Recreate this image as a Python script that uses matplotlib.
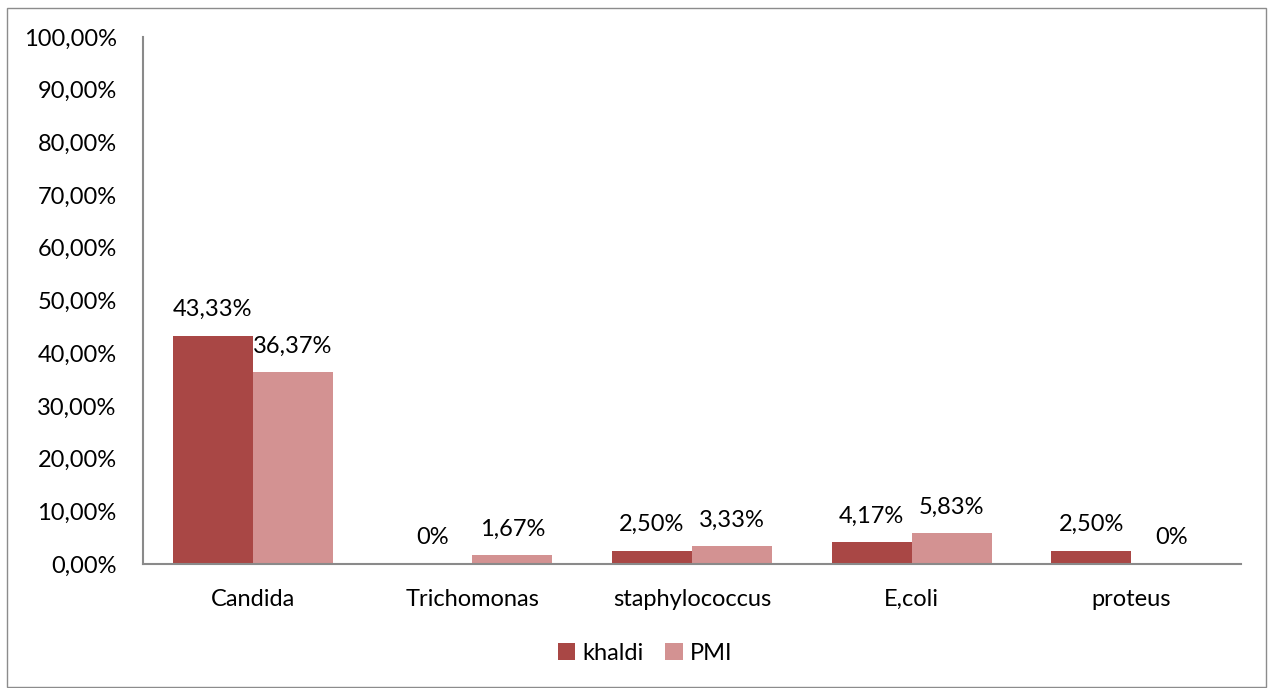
import numpy as np
import matplotlib
matplotlib.use('Agg')
import matplotlib.pyplot as plt
from matplotlib.patches import Rectangle

# Infection rates per germ, two sites
categories = ["Candida", "Trichomonas", "staphylococcus", "E,coli", "proteus"]
khaldi = [43.33, 0.0, 2.50, 4.17, 2.50]
pmi = [36.37, 1.67, 3.33, 5.83, 0.0]
series_names = ["khaldi", "PMI"]
yticks = np.arange(0, 101, 10)

COL_KHALDI = "#A94745"
COL_PMI = "#D39292"
AXIS_GREY = "#8A8A8A"

plt.rcParams['font.family'] = ['Lato', 'DejaVu Sans']
FS = 17


def fmt_label(v):
    if v == 0:
        return "0%"
    return f"{v:.2f}%".replace(".", ",")


fig = plt.figure(figsize=(12.7, 6.88), dpi=100)
W, H = 1270, 688
ax = fig.add_axes([143 / W, (H - 564) / H, (1241 - 143) / W, (564 - 37) / H])

x = np.arange(len(categories))
bw = 0.364
b1 = ax.bar(x - bw / 2, khaldi, bw, color=COL_KHALDI, label=series_names[0])
b2 = ax.bar(x + bw / 2, pmi, bw, color=COL_PMI, label=series_names[1])

# value labels above each bar
for bars, vals in ((b1, khaldi), (b2, pmi)):
    for rect, v in zip(bars, vals):
        ax.annotate(fmt_label(v), (rect.get_x() + rect.get_width() / 2, v),
                    xytext=(0, 26), textcoords='offset pixels',
                    ha='center', va='center', fontsize=FS, color='black')

ax.set_xlim(-0.5, len(categories) - 0.5)
ax.set_ylim(0, 100)
ax.set_yticks(yticks)
ax.set_yticklabels([f"{t:.2f}%".replace(".", ",") for t in yticks], fontsize=FS)
ax.set_xticks(x)
ax.set_xticklabels(categories, fontsize=FS)
ax.tick_params(axis='both', length=0)
ax.tick_params(axis='y', pad=19)
ax.tick_params(axis='x', pad=18)

for side in ('top', 'right'):
    ax.spines[side].set_visible(False)
for side in ('left', 'bottom'):
    ax.spines[side].set_color(AXIS_GREY)
    ax.spines[side].set_linewidth(1.5)

fig.legend(loc='center', bbox_to_anchor=(645 / W, 1 - 653 / H), ncol=2,
           frameon=False, fontsize=FS, handlelength=0.75, handleheight=0.75,
           handletextpad=0.3, columnspacing=0.9)

# outer chart frame
fig.patches.append(Rectangle((7 / W, 1 / H), (1266 - 7) / W, (680 - 1) / H,
                             transform=fig.transFigure, fill=False,
                             edgecolor='#8C8C8C', linewidth=1))

fig.savefig("out.png", dpi=100, facecolor='white')
